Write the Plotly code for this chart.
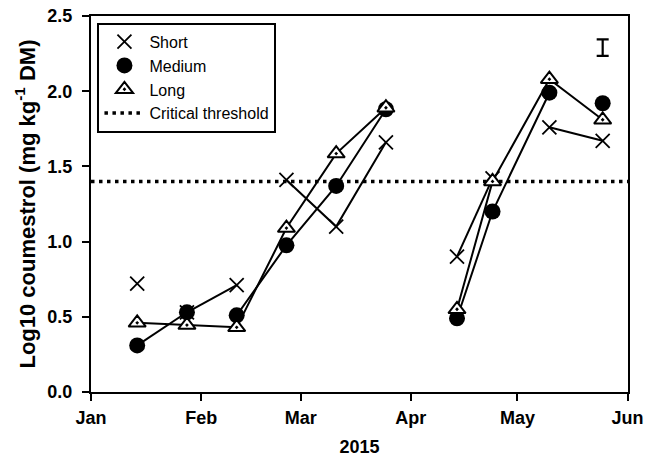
import plotly.graph_objects as go

# ---- data ----
dates = ["2015-01-14", "2015-01-28", "2015-02-11", "2015-02-25", "2015-03-11",
         "2015-03-25", "2015-04-14", "2015-04-24", "2015-05-10", "2015-05-25"]
short_vals = [0.72, 0.53, 0.71, 1.41, 1.10, 1.66, 0.90, 1.42, 1.76, 1.67]
medium_vals = [0.31, 0.53, 0.51, 0.975, 1.37, 1.88, 0.49, 1.20, 1.99, 1.92]
long_vals = [0.46, 0.445, 0.43, 1.09, 1.585, 1.89, 0.55, 1.40, 2.08, 1.81]
# which consecutive points are joined by a line
short_segments = [[0], [1, 2], [3, 4, 5], [6, 7], [8, 9]]
medium_segments = [[0, 1], [2, 3, 4, 5], [6, 7, 8], [9]]
long_segments = [[0, 1, 2, 3, 4, 5], [6, 7, 8, 9]]
threshold = 1.4
lsd_date = "2015-05-25"
lsd_center = 2.29
lsd_half = 0.055
x_range = ["2015-01-01", "2015-06-01 03:00"]
month_ticks = ["2015-01-01", "2015-02-01", "2015-03-01", "2015-04-01", "2015-05-01", "2015-06-01"]
month_labels = ["Jan", "Feb", "Mar", "Apr", "May", "Jun"]


def build(vals, segments):
    xs, ys = [], []
    for k, seg in enumerate(segments):
        if k > 0:
            xs.append(None)
            ys.append(None)
        for i in seg:
            xs.append(dates[i])
            ys.append(vals[i])
    return xs, ys


FONT = "Liberation Sans, Arial, sans-serif"
fig = go.Figure()

short_marker = dict(symbol="x-thin-open", size=14, color="black",
                    line=dict(color="black", width=1.8))
medium_marker = dict(symbol="circle", size=16, color="black",
                     line=dict(color="black", width=0))
long_marker = dict(symbol="triangle-up-dot", size=15, color="white",
                   line=dict(color="black", width=2))

# threshold line (drawn first, listed last in legend)
fig.add_trace(go.Scatter(
    x=x_range, y=[threshold, threshold], mode="lines", name="Critical threshold",
    line=dict(color="black", width=3.5, dash="3.5px,4.5px"), legendrank=1000,
))

for vals, segs, mk in [(short_vals, short_segments, short_marker),
                       (medium_vals, medium_segments, medium_marker),
                       (long_vals, long_segments, long_marker)]:
    xs, ys = build(vals, segs)
    fig.add_trace(go.Scatter(
        x=xs, y=ys, mode="lines+markers", showlegend=False,
        line=dict(color="black", width=2), marker=mk,
    ))

# legend-only entries (markers without line, as in the reference legend)
for name, mk, rank in [("Short", short_marker, 1), ("Medium", medium_marker, 2),
                       ("Long", long_marker, 3)]:
    fig.add_trace(go.Scatter(
        x=[None], y=[None], mode="markers", name=name, marker=mk, legendrank=rank,
    ))

# LSD error bar
fig.add_trace(go.Scatter(
    x=[lsd_date], y=[lsd_center], mode="markers", showlegend=False,
    marker=dict(size=1, color="rgba(0,0,0,0)"),
    error_y=dict(type="data", array=[lsd_half], color="black", thickness=2.2, width=6),
))

axis_common = dict(
    showline=True, linecolor="black", linewidth=2, mirror=True,
    ticks="outside", ticklen=7, tickwidth=1.5, tickcolor="black",
    showgrid=False, zeroline=False, automargin=False,
    ticklabeloverflow="allow",
    tickfont=dict(family=FONT, size=18, color="black", weight="bold"),
)

fig.update_layout(
    template="none",
    width=645, height=464,
    margin=dict(l=91, r=17, t=16, b=72),
    paper_bgcolor="white", plot_bgcolor="white",
    font=dict(family=FONT, color="black"),
    xaxis=dict(
        range=x_range, tickvals=month_ticks, ticktext=month_labels,
        ticklabelstandoff=1,
        title=dict(text="2015", font=dict(family=FONT, size=18, color="black", weight="bold"),
                   standoff=14),
        **axis_common,
    ),
    yaxis=dict(
        range=[0, 2.5], tickvals=[0, 0.5, 1.0, 1.5, 2.0, 2.5], tickformat=".1f",
        ticklabelstandoff=6,
        title=dict(text="Log10 coumestrol (mg kg<sup>-1</sup> DM)",
                   font=dict(family=FONT, size=22, color="black", weight="bold"),
                   standoff=6),
        **axis_common,
    ),
    legend=dict(
        x=0.012, y=0.982, xanchor="left", yanchor="top",
        bordercolor="black", borderwidth=2, bgcolor="white",
        font=dict(family=FONT, size=16, color="black"),
        tracegroupgap=0, itemwidth=40,
    ),
    showlegend=True,
)

fig.write_html("out.html", config={"displayModeBar": False},
               post_script="document.body.style.margin='0';")
